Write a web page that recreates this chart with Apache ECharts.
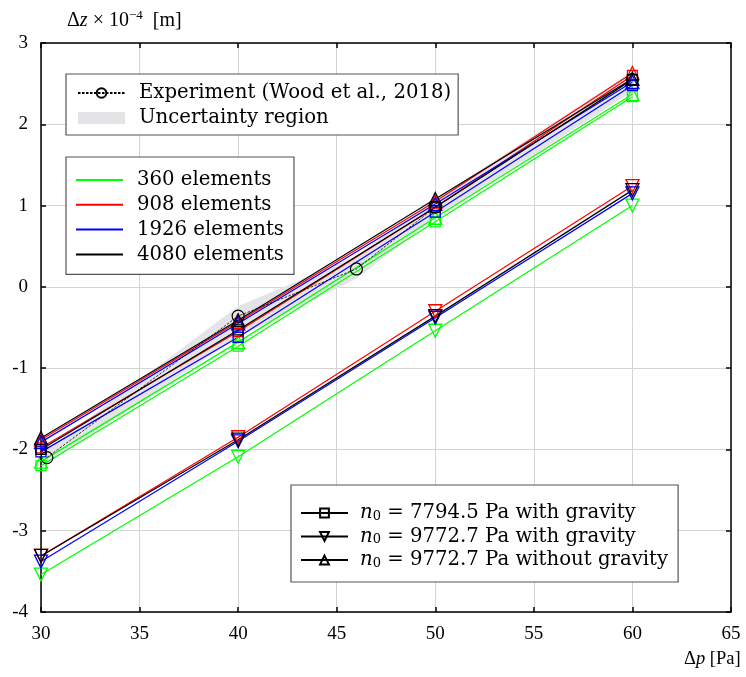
<!DOCTYPE html>
<html><head><meta charset="utf-8">
<script src="https://cdn.jsdelivr.net/npm/echarts@6/dist/echarts.min.js"></script>
<style>html,body{margin:0;padding:0;background:#fff}#c{width:746px;height:677px}</style>
</head><body><div id="c"></div>
<script>
// ---- data ----
var dp = [30, 40, 50, 60];
var meshNames = ['360 elements', '908 elements', '1926 elements', '4080 elements'];
var meshColors = ['#00ff00', '#ff0000', '#0000ff', '#000000'];
// n0 = 7794.5 Pa with gravity (squares)
var sq360 = [-2.20, -0.73, 0.80, 2.34];
var sq908 = [-1.98, -0.55, 0.98, 2.60];
var sq1926 = [-2.03, -0.62, 0.92, 2.48];
var sq4080 = [-2.00, -0.53, 0.98, 2.55];
// n0 = 9772.7 Pa with gravity (down triangles)
var dn360 = [-3.54, -2.09, -0.54, 1.00];
var dn908 = [-3.31, -1.85, -0.30, 1.24];
var dn1926 = [-3.38, -1.90, -0.38, 1.15];
var dn4080 = [-3.31, -1.88, -0.36, 1.19];
// n0 = 9772.7 Pa without gravity (up triangles)
var up360 = [-2.15, -0.68, 0.85, 2.37];
var up908 = [-1.88, -0.43, 1.05, 2.63];
var up1926 = [-1.91, -0.45, 1.02, 2.52];
var up4080 = [-1.86, -0.41, 1.08, 2.56];
// experiment
var expX = [30.3, 40, 46, 50, 60];
var expY = [-2.10, -0.36, 0.22, 0.98, 2.55];
var bandLower = [-2.18, -0.62, 0.10, 0.85, 2.40];
var bandUpper = [-2.00, -0.24, 0.38, 1.08, 2.65];
var caseNames = ['n0 = 7794.5 Pa with gravity', 'n0 = 9772.7 Pa with gravity', 'n0 = 9772.7 Pa without gravity'];

var FONT = 'Liberation Serif';
var LFONT = 'DejaVu Serif';
var squares = [sq360, sq908, sq1926, sq4080];
var downs = [dn360, dn908, dn1926, dn4080];
var ups = [up360, up908, up1926, up4080];

function pts(xs, ys) { return xs.map(function (x, i) { return [x, ys[i]]; }); }
function mk(name, ys, color, symbol, rot, size) {
  return {
    type: 'line', name: name, data: pts(dp, ys), symbol: symbol, symbolRotate: rot,
    symbolSize: size, z: 3, animation: false,
    lineStyle: { color: color, width: 1.2 },
    itemStyle: { color: 'rgba(0,0,0,0)', borderColor: color, borderWidth: 1.3 }
  };
}
var series = [];
// uncertainty band (polygon through lower and upper bounds)
series.push({
  type: 'custom', name: 'Uncertainty region', z: 1, animation: false, silent: true,
  data: expX.map(function (x, i) { return [x, bandLower[i], bandUpper[i]]; }),
  encode: { x: 0, y: [1, 2] },
  itemStyle: { color: '#e4e4e6' },
  renderItem: function (params, api) {
    if (params.dataIndexInside !== 0) return;
    var n = params.dataInsideLength, top = [], bot = [];
    for (var i = 0; i < n; i++) {
      top.push(api.coord([api.value(0, i), api.value(2, i)]));
      bot.unshift(api.coord([api.value(0, i), api.value(1, i)]));
    }
    return { type: 'polygon', shape: { points: top.concat(bot) }, style: { fill: '#e4e4e6' } };
  }
});
for (var m = 0; m < 4; m++) {
  series.push(mk('sq' + m, squares[m], meshColors[m], 'rect', 0, 10));
  series.push(mk('dn' + m, downs[m], meshColors[m], 'triangle', 180, 13));
  series.push(mk('up' + m, ups[m], meshColors[m], 'triangle', 0, 13));
}
series.push({ type: 'line', name: 'Experiment (Wood et al., 2018)', data: pts(expX, expY), z: 5, animation: false,
  symbol: 'circle', symbolSize: 12,
  lineStyle: { color: '#000', width: 0.8, type: [2.5, 1.5] },
  itemStyle: { color: 'rgba(0,0,0,0)', borderColor: '#000', borderWidth: 1.2 } });
// legend-only series
meshNames.forEach(function (n, i) {
  series.push({ type: 'line', name: n, data: [], symbol: 'none', lineStyle: { color: meshColors[i], width: 2 }, itemStyle: { color: meshColors[i] } });
});
var caseSym = [['rect', 0], ['triangle', 180], ['triangle', 0]];
caseNames.forEach(function (n, i) {
  series.push({ type: 'line', name: n, data: [], symbol: caseSym[i][0], symbolRotate: caseSym[i][1], symbolSize: 10,
    lineStyle: { color: '#000', width: 2 }, itemStyle: { color: 'rgba(0,0,0,0)', borderColor: '#000', borderWidth: 1.3 } });
});

var legendBase = {
  orient: 'vertical', backgroundColor: '#fff', borderColor: '#555', borderWidth: 1.2, borderRadius: 0,
  itemWidth: 47, itemHeight: 12, itemGap: 5, itemTextGap: 15, selectedMode: false,
  textStyle: { fontFamily: LFONT, fontSize: 19.7, color: '#000', lineHeight: 20, padding: [0, 0, 0, 9] }
};
function legend(extra) { return Object.assign({}, legendBase, extra); }

var axisLine = { show: true, onZero: false, lineStyle: { color: '#000', width: 1.5 } };
var tick = { show: true, inside: true, length: 5, lineStyle: { color: '#000', width: 1.5 } };
var lbl = { fontFamily: FONT, fontSize: 19, color: '#000' };
var nameRich = { a: { fontFamily: FONT, fontSize: 20, color: '#000' }, i: { fontFamily: FONT, fontStyle: 'italic', fontSize: 20, color: '#000' },
  s: { fontFamily: FONT, fontSize: 13, color: '#000', verticalAlign: 'top', padding: [0, 0, 10, 0] } };
var xRich = { a: { fontFamily: FONT, fontSize: 18.5, color: '#000' }, i: { fontFamily: FONT, fontStyle: 'italic', fontSize: 18.5, color: '#000' } };
var option = {
  backgroundColor: '#fff',
  animation: false,
  grid: { left: 41, right: 15, top: 43, bottom: 65, outerBoundsMode: 'none', containLabel: false },
  xAxis: [
    { type: 'value', min: 30, max: 65, interval: 5, position: 'bottom', axisLine: axisLine, axisTick: tick,
      axisLabel: Object.assign({ margin: 13 }, lbl),
      splitLine: { show: true, lineStyle: { color: '#d4d4d4', width: 1 } },
      name: '{a|Δ}{i|p}{a| [Pa]}', nameLocation: 'end', nameGap: -47,
      nameTextStyle: { verticalAlign: 'top', align: 'left', padding: [38, 0, 0, 0], rich: xRich } },
    { type: 'value', min: 30, max: 65, interval: 5, position: 'top', axisLine: axisLine, axisTick: tick,
      axisLabel: { show: false }, splitLine: { show: false } }
  ],
  yAxis: [
    { type: 'value', min: -4, max: 3, interval: 1, position: 'left', axisLine: axisLine, axisTick: tick,
      axisLabel: Object.assign({ margin: 13 }, lbl),
      splitLine: { show: true, lineStyle: { color: '#d4d4d4', width: 1 } },
      name: '{a|Δ}{i|z}{a| × 10}{s|−4}{a|  [m]}', nameLocation: 'end', nameGap: 11,
      nameTextStyle: { align: 'left', padding: [0, 0, 0, 26], rich: nameRich } },
    { type: 'value', min: -4, max: 3, interval: 1, position: 'right', axisLine: axisLine, axisTick: tick,
      axisLabel: { show: false }, splitLine: { show: false } }
  ],
  legend: [
    legend({ left: 66, top: 74, padding: [9, 7, 7, 11], itemGap: 5, data: [
      { name: 'Experiment (Wood et al., 2018)' },
      { name: 'Uncertainty region', icon: 'rect', itemStyle: { color: '#e4e4e6' } }] }),
    legend({ left: 66, top: 157, padding: [13, 10, 10, 10], itemGap: 4.8, itemHeight: 2,
      data: meshNames.map(function (n, i) { return { name: n, icon: 'rect', itemStyle: { color: meshColors[i] } }; }) }),
    legend({ left: 291, top: 485, padding: [18, 10, 12, 9], itemGap: 3.5, itemHeight: 11,
      formatter: function (n) { return n.replace('n0', '{i|n}{sub|0}'); },
      textStyle: { fontFamily: LFONT, fontSize: 19.7, color: '#000', lineHeight: 20, padding: [0, 0, 0, 7],
        rich: { i: { fontFamily: LFONT, fontStyle: 'italic', fontSize: 19.7 }, sub: { fontFamily: LFONT, fontSize: 13, verticalAlign: 'bottom', padding: [7, 0, 0, 0] } } },
      data: caseNames })
  ],
  series: series
};
var chart = echarts.init(document.getElementById('c'), null, { renderer: 'canvas' });
chart.setOption(option);
</script></body></html>
